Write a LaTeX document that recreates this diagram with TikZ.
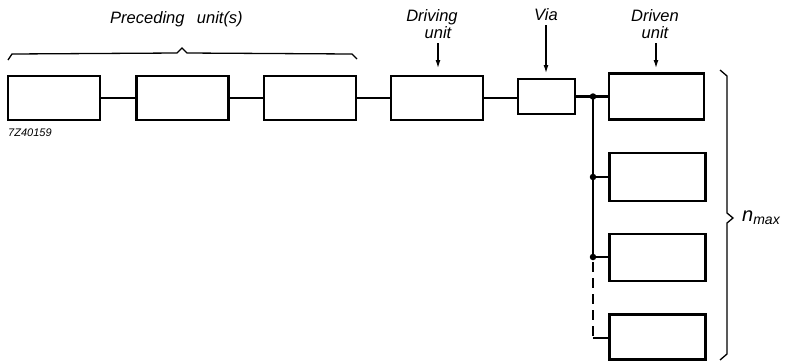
\documentclass[tikz,border=0pt]{standalone}
\usepackage{fontspec}
\setmainfont{Liberation Sans}
\usetikzlibrary{arrows.meta,calc}
\begin{document}
\begin{tikzpicture}[x=1pt,y=-1pt,
  unitbox/.style={draw,line width=2.8pt,minimum width=92pt,minimum height=44pt,inner sep=0pt},
  conn/.style={line width=2.5pt},
  lbl/.style={font=\fontsize{16.5}{17}\selectfont\itshape,align=center,inner sep=0pt},
  ptr/.style={line width=1.2pt,-{Latex[length=8pt,width=5pt]}},
  dot/.style={circle,fill,inner sep=0pt,minimum size=6.5pt}]
\useasboundingbox (0,0) rectangle (787,360);
% boxes
\node[unitbox] (p1) at (54,98) {};
\node[unitbox] (p2) at (182.5,98) {};
\node[unitbox] (p3) at (310,98) {};
\node[unitbox] (drv) at (437,98) {};
\node[unitbox,minimum width=57pt,minimum height=35pt] (via) at (546.5,96.5) {};
\node[unitbox,minimum width=95pt,minimum height=46pt] (d1) at (656.5,96.5) {};
\node[unitbox,minimum width=96pt,minimum height=48pt] (d2) at (657.5,177) {};
\node[unitbox,minimum width=96pt,minimum height=47pt] (d3) at (657.5,257.5) {};
\node[unitbox,minimum width=96pt,minimum height=45pt] (d4) at (657.5,337) {};
% chain connectors
\draw[conn] (p1.east) -- (p2.west);
\draw[conn] (p2.east) -- (p3.west);
\draw[conn] (p3.east) -- (drv.west);
\draw[conn] (drv.east) -- (via.west |- drv.east);
% bus
\coordinate (b1) at (593,96.5);
\coordinate (b2) at (593,177);
\coordinate (b3) at (593,257);
\coordinate (b4) at (593,338);
\draw[conn] (via.east) -- (b1) -- (d1.west |- b1);
\draw[conn] (b1) -- (b2) -- (b3);
\draw[conn] (b2) -- (d2.west |- b2);
\draw[conn] (b3) -- (d3.west |- b3);
\draw[conn,dash pattern=on 10pt off 6pt] ($(b3)+(0,5)$) -- (b4);
\draw[conn] (b4) -- (d4.west |- b4);
\node[dot] at (b1) {};
\node[dot] at (b2) {};
\node[dot] at (b3) {};
% labels
\node[lbl] (prec) at (176.5,19) {Preceding\hspace{0.75em}unit(s)};
\node[lbl,anchor=north] (ldrv) at (432,9) {Driving\\\hspace{12pt}unit};
\node[lbl,anchor=north] (lvia) at (546,8) {Via};
\node[lbl,anchor=north] (ldrn) at (655,9) {Driven\\unit};
\coordinate (adrv) at (438,43);
\coordinate (avia) at (546,25);
\coordinate (adrn) at (656,43);
\draw[ptr] (adrv) -- (adrv |- 0,68);
\draw[ptr] (avia) -- (avia |- 0,73);
\draw[ptr] (adrn) -- (adrn |- 0,68);
% top brace
\draw[line width=1.3pt] (8,60) -- (12,54) -- (177,53) -- (182,48) -- (187,53) -- (352,54) -- (357,59);
% right brace
\draw[line width=1.3pt] (720,70) -- (727,76) -- (727,213) -- (733,218) -- (727,223) -- (727,354) -- (720,360);
\node[font=\itshape,anchor=west,inner sep=0pt] (nmax) at (742,218) {\fontsize{20}{22}\selectfont n\raisebox{-3pt}{\fontsize{14}{16}\selectfont max}};
\node[font=\fontsize{11}{12}\selectfont\itshape,anchor=west,inner sep=0pt] (code) at (8,133) {7Z40159};
\end{tikzpicture}
\end{document}
